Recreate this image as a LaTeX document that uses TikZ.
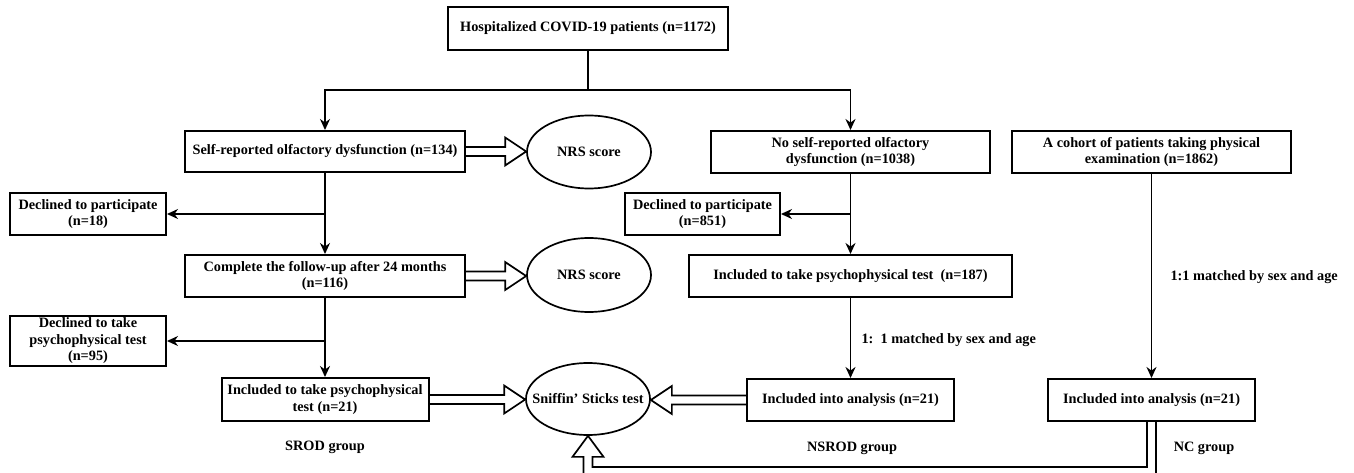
\documentclass[tikz,border=0pt]{standalone}
\usepackage{fontspec}
\setmainfont{Liberation Serif}
\usetikzlibrary{calc}
\usetikzlibrary{arrows.meta}
\usetikzlibrary{shapes}
\usetikzlibrary{positioning}

% hollow block arrow, horizontal: from #1 to #2, #3 = 1 (right) or -1 (left)
\newcommand{\hollowarrow}[3]{%
  \draw[hollow] let \p1=(#1), \p2=(#2), \n1={#3*21} in
    (\x1,\y1+4.5) -- (\x2-\n1,\y1+4.5) -- (\x2-\n1,\y1+14) -- (\x2,\y1)
    -- (\x2-\n1,\y1-14) -- (\x2-\n1,\y1-4.5) -- (\x1,\y1-4.5);}

\begin{document}
\begin{tikzpicture}[x=1pt,y=-1pt,line join=miter,
	txt/.style={font=\fontsize{14.3}{16.5}\selectfont\bfseries,align=center},
	box/.style={txt,draw,line width=2pt,inner sep=0pt},
	oval/.style={txt,draw,ellipse,line width=1.7pt,inner sep=0pt},
	arr/.style={line width=1.8pt,-{Stealth[length=11pt,width=10pt]}},
	hollow/.style={line width=1.7pt}]
	
	\useasboundingbox (0,0) rectangle (1354,473);
	\clip (0,0) rectangle (1354,473);
	
	\node[box,minimum width=280pt,minimum height=43pt] (top) at (588,28.5) {Hospitalized COVID-19 patients (n=1172)};
	
	\node[box,minimum width=280pt,minimum height=41pt] (srod1) at (325,151.5) {Self-reported olfactory dysfunction (n=134)};
	\node[oval,minimum width=124pt,minimum height=73pt] (nrs1) at (589,152) {NRS score};
	\node[box,minimum width=279pt,minimum height=42pt] (nsrod1) at (850.5,152) {No self-reported olfactory\\dysfunction (n=1038)};
	\node[box,minimum width=279pt,minimum height=42pt] (nc1) at (1151.5,152) {A cohort of patients taking physical\\examination (n=1862)};
	
	\node[box,minimum width=156pt,minimum height=42pt] (decl1) at (88,214) {Declined to participate\\(n=18)};
	\node[box,minimum width=155pt,minimum height=42pt] (decl2) at (702.5,214) {Declined to participate\\(n=851)};
	
	\node[box,minimum width=280pt,minimum height=42pt] (srod2) at (325,276) {Complete the follow-up after 24 months\\(n=116)};
	\node[oval,minimum width=124pt,minimum height=74pt] (nrs2) at (589,275) {NRS score};
	\node[box,minimum width=323pt,minimum height=42pt] (nsrod2) at (850.5,276) {Included to take psychophysical test\ \ (n=187)};
	
	\node[box,minimum width=156pt,minimum height=50pt] (decl3) at (88,341) {Declined to take\\psychophysical test\\(n=95)};
	
	\node[box,minimum width=207pt,minimum height=43pt] (srod3) at (325,399.5) {Included to take psychophysical\\test (n=21)};
	\node[oval,minimum width=124pt,minimum height=72pt] (sniff) at (588,399) {\makebox[0pt]{Sniffin’ Sticks test}};
	\node[box,minimum width=207pt,minimum height=42pt] (nsrod3) at (850.5,400) {Included into analysis (n=21)};
	\node[box,minimum width=207pt,minimum height=42pt] (nc3) at (1151.5,400) {Included into analysis (n=21)};
	
	\node[txt,anchor=west] (match1) at (858,340) {1:\ \ 1 matched by sex and age};
	\node[txt,anchor=west] (match2) at (1167,277) {1:1 matched by sex and age};
	
	\node[txt] (grp1) at (325,447) {SROD group};
	\node[txt] (grp2) at (852,448) {NSROD group};
	\node[txt] (grp3) at (1204,448) {NC group};
	
	% plain arrows
	\draw[line width=1.8pt] (top.south) -- ++(0,39) coordinate (split);
	\draw[arr] (split) -| (srod1.north);
	\draw[arr] (split) -| (nsrod1.north);
	
	\draw[arr] (srod1.south) -- (srod2.north);
	\draw[arr] (srod1.south |- decl1) -- (decl1.east);
	\draw[arr] (srod2.south) -- (srod3.north);
	\draw[arr] (srod2.south |- decl3) -- (decl3.east);
	
	\draw[arr] (nsrod1.south) -- (nsrod2.north);
	\draw[arr] (nsrod1.south |- decl2) -- (decl2.east);
	\draw[arr] (nsrod2.south) -- (nsrod3.north);
	
	\draw[arr] (nc1.south) -- (nc3.north);
	
	% hollow arrows
	\hollowarrow{srod1.east}{nrs1.west}{1}
	\hollowarrow{srod2.east}{nrs2.west}{1}
	\hollowarrow{srod3.east}{sniff.west}{1}
	\hollowarrow{nsrod3.west}{sniff.east}{-1}
	
	\coordinate (low) at (0,471.5);
	\draw[hollow] ($(nc3.south)+(-4.5,0)$) -- ($(nc3.south |- low)+(-4.5,-4.5)$)
		-- ($(sniff.south |- low)+(4.5,-4.5)$) -- ($(sniff.south)+(4.5,21)$)
		-- ($(sniff.south)+(15.5,21)$) -- (sniff.south) -- ($(sniff.south)+(-15.5,21)$)
		-- ($(sniff.south)+(-4.5,21)$) -- ($(sniff.south |- low)+(-4.5,4.5)$)
		-- ($(nc3.south |- low)+(4.5,4.5)$) -- ($(nc3.south)+(4.5,0)$);
\end{tikzpicture}
\end{document}
